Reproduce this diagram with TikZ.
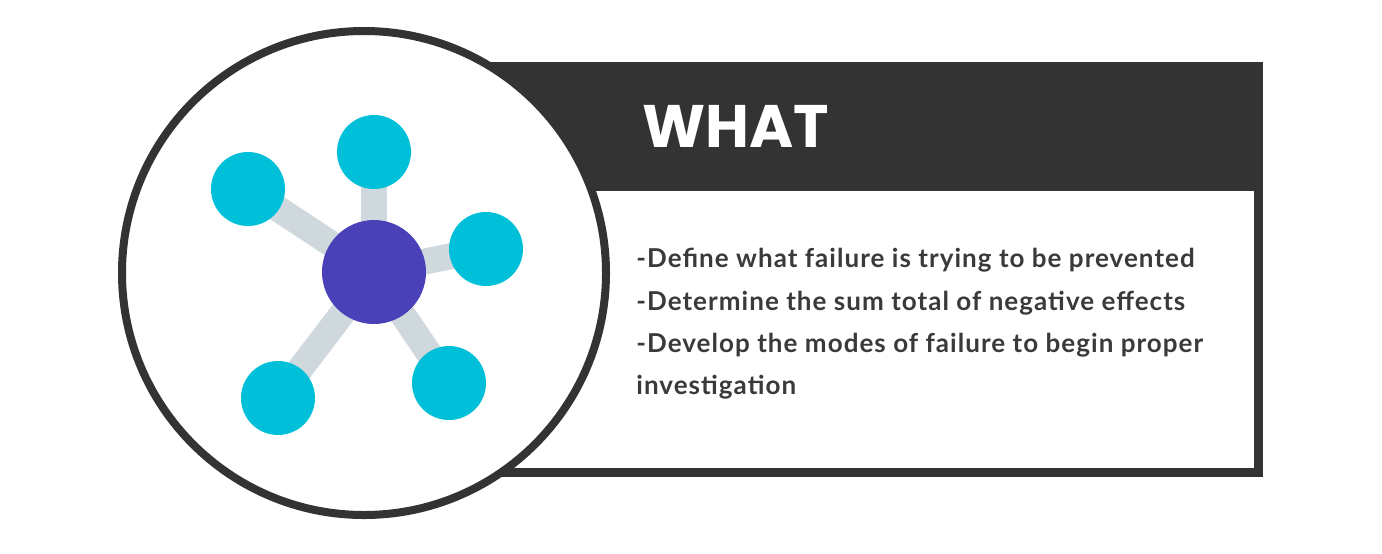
\documentclass[tikz,border=0pt]{standalone}
\usepackage{fontspec}
\setmainfont{Lato}[LetterSpace=4]
\newfontfamily\titlefont{Poppins}
\definecolor{panel}{HTML}{333333}
\definecolor{hubpurple}{HTML}{4A41B8}
\definecolor{leafcyan}{HTML}{00BFD8}
\definecolor{spokegray}{HTML}{CFD8DC}
\definecolor{textgray}{HTML}{3A3A3A}

\begin{document}
\begin{tikzpicture}[x=0.5pt,y=-0.5pt,
    hub/.style={circle,fill=hubpurple,minimum size=52pt,inner sep=0pt},
    leaf/.style={circle,fill=leafcyan,minimum size=37pt,inner sep=0pt},
    spoke/.style={draw=spokegray,line width=13pt},
    ring/.style={circle,draw=panel,fill=white,line width=4pt,minimum size=242pt,inner sep=0pt},
    item/.style={anchor=base west,inner sep=0pt,text=textgray,font=\fontsize{13}{15}\selectfont\bfseries}]
  \useasboundingbox (0,0) rectangle (1382,553);
  \fill[panel] (490,62) rectangle (1263,477);
  \fill[white] (500,191) rectangle (1254,468);
  \node[ring] (frame) at (364,273) {};
  \coordinate (c0) at (374,272);
  \coordinate (c1) at (374,152);
  \coordinate (c2) at (248,189);
  \coordinate (c3) at (486,249);
  \coordinate (c4) at (278,398);
  \coordinate (c5) at (449,383);
  \path[spoke]
    (c0) edge (c1) edge (c2) edge (c3) edge (c4) edge (c5);
  \node[hub] (h) at (c0) {};
  \foreach \i in {1,...,5}
    \node[leaf] (n\i) at (c\i) {};
  \node[anchor=base west,inner sep=0pt,text=white,font=\titlefont\fontsize{30}{36}\selectfont\bfseries] (what) at (642,147) {WHAT};
  \node[item] (l1) at (636,267) {-Define what failure is trying to be prevented};
  \node[item] (l2) at (636,310) {-Determine the sum total of negative effects};
  \node[item] (l3) at (636,352) {-Develop the modes of failure to begin proper};
  \node[item] (l4) at (636,394) {investigation};
\end{tikzpicture}
\end{document}
